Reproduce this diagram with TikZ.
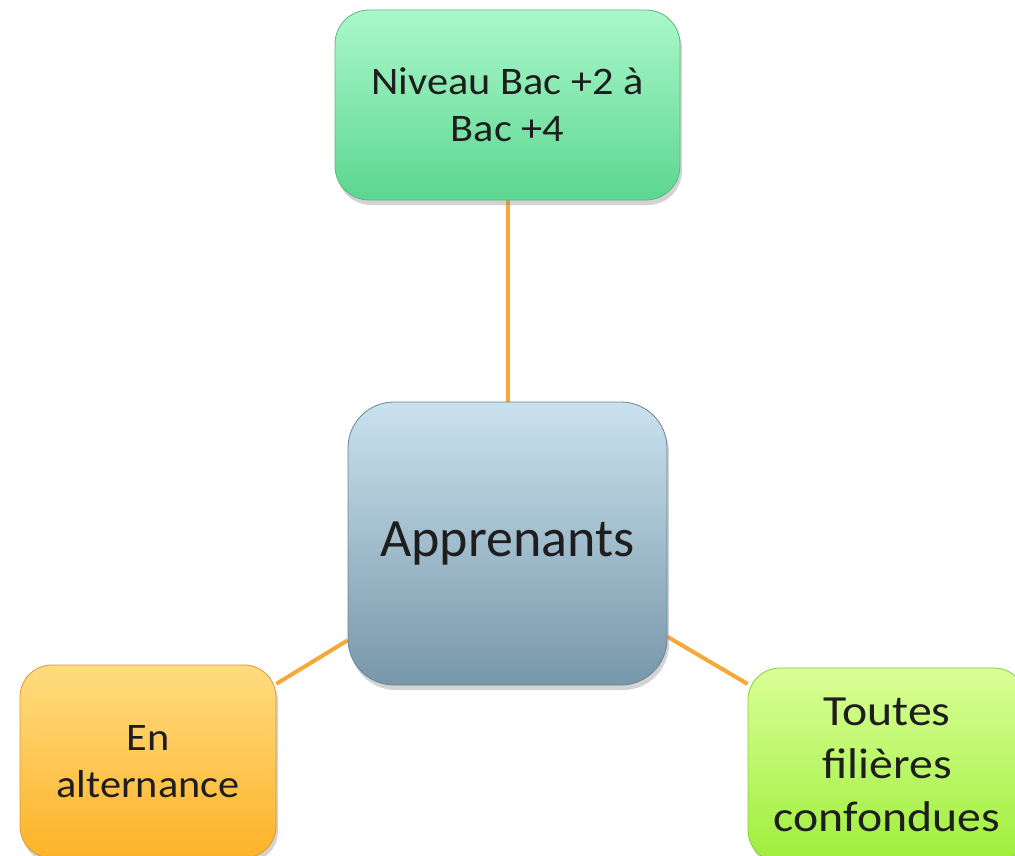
\documentclass[tikz,border=0pt]{standalone}
\usepackage{fontspec}
\setmainfont{Carlito}
\newfontfamily\widefont[FakeStretch=1.085]{Carlito}
\newfontfamily\widerfont[FakeStretch=1.11]{Carlito}
\usetikzlibrary{shadows,backgrounds}
\definecolor{greenTop}{HTML}{AAF8CA}
\definecolor{greenBot}{HTML}{5CD690}
\definecolor{greenEdge}{HTML}{58B880}
\definecolor{blueTop}{HTML}{CAE2EE}
\definecolor{blueBot}{HTML}{7897AA}
\definecolor{blueEdge}{HTML}{6A8494}
\definecolor{orTop}{HTML}{FFDC80}
\definecolor{orBot}{HTML}{FDB328}
\definecolor{orEdge}{HTML}{D89A30}
\definecolor{limeTop}{HTML}{DAFF98}
\definecolor{limeBot}{HTML}{9EEE3A}
\definecolor{limeEdge}{HTML}{88CC40}
\definecolor{linkCol}{HTML}{F8A838}
\definecolor{txt}{HTML}{1E1E1E}
\tikzset{
  box/.style={rectangle, rounded corners=#1, line width=0.8pt, align=center,
    text=txt, inner sep=0pt,
    drop shadow={shadow xshift=2pt, shadow yshift=-5pt, opacity=0.35}},
  link/.style={draw=linkCol, line width=4pt},
}
\begin{document}
\begin{tikzpicture}[x=1pt,y=-1pt]
\clip (0,0) rectangle (1015,856);
\useasboundingbox (0,0) rectangle (1015,856);
\node[box=34pt, draw=greenEdge, top color=greenTop, bottom color=greenBot,
  minimum width=345pt, minimum height=190pt,
  font={\widefont\fontsize{39}{47}\selectfont}] (top) at (507.5,105)
  {Niveau Bac +2 à\\Bac +4};
\node[box=46pt, draw=blueEdge, top color=blueTop, bottom color=blueBot,
  minimum width=319pt, minimum height=283pt,
  font={\fontsize{54}{64}\selectfont}] (ctr) at (507.5,543.5)
  {Apprenants};
\node[box=32pt, draw=orEdge, top color=orTop, bottom color=orBot,
  minimum width=256pt, minimum height=193pt,
  font={\widefont\fontsize{39}{47}\selectfont}] (lft) at (148,761.5)
  {En\\alternance};
\node[box=32pt, draw=limeEdge, top color=limeTop, bottom color=limeBot,
  minimum width=278pt, minimum height=194pt,
  font={\widerfont\fontsize{43}{53}\selectfont}] (rgt) at (887,765)
  {Toutes\\filières\\confondues};
\begin{scope}[on background layer]
\draw[link] (top) -- (ctr);
\draw[link] (ctr) -- (lft);
\draw[link] (ctr) -- (rgt);
\end{scope}
\end{tikzpicture}
\end{document}
